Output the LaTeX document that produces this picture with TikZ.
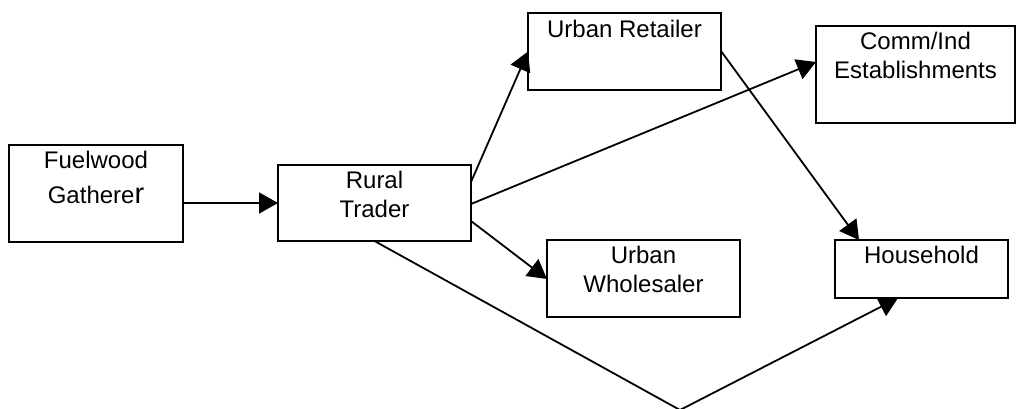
\documentclass[tikz,border=0pt]{standalone}
\usepackage{fontspec}
\setmainfont{Liberation Sans}
\usetikzlibrary{arrows.meta}
\begin{document}
\begin{tikzpicture}[x=1pt,y=-1pt,
  box/.style={draw, line width=1.8pt, inner sep=0pt, outer sep=0pt},
  lbl/.style={anchor=base, inner sep=0pt, font=\fontsize{24}{29}\selectfont},
  conn/.style={line width=1.8pt, -{Triangle[length=19pt,width=21pt]}}]
\useasboundingbox (0,0) rectangle (1016,408);
\fill[white] (0,0) rectangle (1016,408);
% boxes
\node[box, minimum width=174pt, minimum height=97pt] (gath) at (96,193.5) {};
\node[box, minimum width=193pt, minimum height=76pt] (rt) at (374.5,203) {};
\node[box, minimum width=193pt, minimum height=77pt] (ur) at (624.5,51.5) {};
\node[box, minimum width=199pt, minimum height=97pt] (ci) at (915.5,74.5) {};
\node[box, minimum width=193pt, minimum height=77pt] (uw) at (643.5,278.5) {};
\node[box, minimum width=173pt, minimum height=58pt] (hh) at (921.5,269) {};
% labels
\node[lbl] (gath1) at ([yshift=-23pt]gath.north) {Fuelwood};
\node[lbl] (gath2) at ([yshift=-58pt]gath.north) {Gathere{\fontsize{29}{29}\selectfont r}};
\node[lbl] (rt1) at ([yshift=-23pt]rt.north) {Rural};
\node[lbl] (rt2) at ([yshift=-52pt]rt.north) {Trader};
\node[lbl] (ur1) at ([yshift=-24pt]ur.north) {Urban Retailer};
\node[lbl] (ci1) at ([yshift=-23pt]ci.north) {Comm/Ind};
\node[lbl] (ci2) at ([yshift=-52pt]ci.north) {Establishments};
\node[lbl] (uw1) at ([yshift=-23pt]uw.north) {Urban};
\node[lbl] (uw2) at ([yshift=-52pt]uw.north) {Wholesaler};
\node[lbl] (hh1) at ([yshift=-23pt]hh.north) {Household};
% connectors
\coordinate (v) at (680,410);
\draw[conn] (gath.east |- rt.west) -- (rt.west);
\draw[conn] ([yshift=-17pt]rt.north east) -- (ur.west);
\draw[conn] ([yshift=-39pt]rt.north east) -- ([yshift=-36pt]ci.north west);
\draw[conn] ([yshift=-56pt]rt.north east) -- ([yshift=-39pt]uw.north west);
\draw[conn] ([yshift=-38pt]ur.north east) -- ([xshift=24pt]hh.north west);
\draw[conn] (rt.south) -- (v) -- ([xshift=63pt]hh.south west);
\end{tikzpicture}
\end{document}
